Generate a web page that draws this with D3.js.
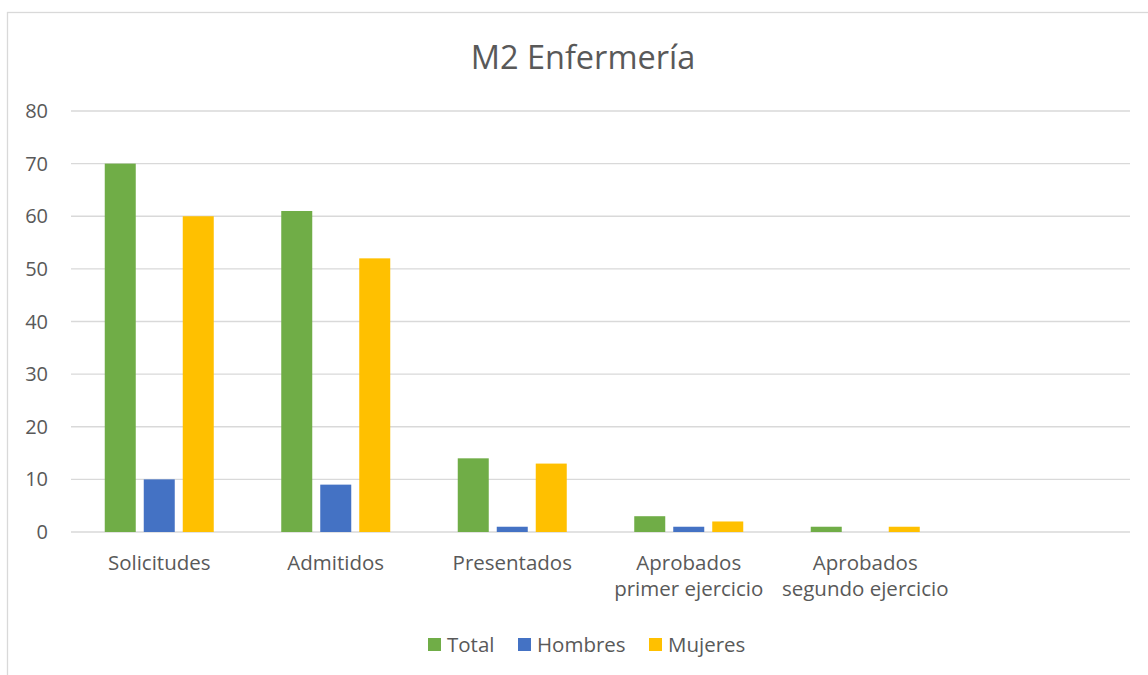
<!DOCTYPE html>
<html>
<head>
<meta charset="utf-8">
<title>M2 Enfermería</title>
<script src="https://cdn.jsdelivr.net/npm/d3@7"></script>
<style>
    body{ margin:0; background:#fff; }
    .chart text{ font-family: "Open Sans", "Noto Sans", sans-serif; fill:#595959; }
    .grid line{ stroke:#d9d9d9; stroke-width:1.3px; }
</style>
</head>
<body>
<div id="chart"></div>
<script>
// datos
var categorias = ["Solicitudes", "Admitidos", "Presentados", "Aprobados\nprimer ejercicio", "Aprobados\nsegundo ejercicio", ""];
var series = ["Total", "Hombres", "Mujeres"];
var total   = [70, 61, 14, 3, 1, null];
var hombres = [10, 9, 1, 1, 0, null];
var mujeres = [60, 52, 13, 2, 1, null];
var colores = ["#70ad47", "#4472c4", "#ffc000"];
var yTicks = [0, 10, 20, 30, 40, 50, 60, 70, 80];

var valores = [total, hombres, mujeres];

var width = 1148, height = 675;
var plotLeft = 71, plotRight = 1130, plotTop = 111, plotBottom = 532;

var svg = d3.select("#chart").append("svg")
    .attr("class", "chart")
    .attr("width", width)
    .attr("height", height);

// marco
svg.append("rect")
    .attr("x", 7.5).attr("y", 12.5)
    .attr("width", 1300).attr("height", 800)
    .attr("fill", "none").attr("stroke", "#d9d9d9").attr("stroke-width", 1.3);

var x0 = d3.scaleBand().domain(d3.range(categorias.length)).range([plotLeft, plotRight]);
var barW = 31, gap = 8;
var groupW = barW * 3 + gap * 2;
var x1 = d3.scaleBand().domain(d3.range(series.length))
    .range([0, groupW]).paddingInner(gap / (barW + gap)).paddingOuter(0);
var y = d3.scaleLinear().domain([0, 80]).range([plotBottom, plotTop]);

// rejilla
svg.append("g").attr("class", "grid")
    .selectAll("line").data(yTicks).enter().append("line")
    .attr("x1", plotLeft).attr("x2", plotRight)
    .attr("y1", function(d){ return y(d); })
    .attr("y2", function(d){ return y(d); });

// etiquetas eje y
svg.append("g").selectAll("text").data(yTicks).enter().append("text")
    .attr("x", 48)
    .attr("y", function(d){ return y(d); })
    .attr("dy", "0.35em")
    .attr("text-anchor", "end")
    .attr("font-size", "20px")
    .text(function(d){ return d; });

// barras
series.forEach(function(s, si){
    svg.append("g").selectAll("rect")
        .data(valores[si].map(function(v, i){ return {v: v, i: i}; }).filter(function(d){ return d.v !== null && d.v > 0; }))
        .enter().append("rect")
        .attr("fill", colores[si])
        .attr("x", function(d){ return x0(d.i) + (x0.bandwidth() - groupW) / 2 + x1(si); })
        .attr("width", x1.bandwidth())
        .attr("y", function(d){ return y(d.v); })
        .attr("height", function(d){ return y(0) - y(d.v); });
});

// etiquetas categorias
var cat = svg.append("g").selectAll("text").data(categorias).enter().append("text")
    .attr("text-anchor", "middle")
    .attr("font-size", "20.5px")
    .attr("transform", function(d, i){ return "translate(" + (x0(i) + x0.bandwidth() / 2) + ",570)"; });
cat.selectAll("tspan").data(function(d){ return d.split("\n"); }).enter().append("tspan")
    .attr("x", 0)
    .attr("dy", function(d, i){ return i === 0 ? 0 : 26; })
    .text(function(d){ return d; });

// titulo
svg.append("text")
    .attr("x", 583).attr("y", 69)
    .attr("text-anchor", "middle")
    .attr("font-size", "32.5px")
    .text("M2 Enfermería");

// leyenda
var legX = [428, 518, 649];
var leg = svg.append("g").selectAll("g").data(series).enter().append("g")
    .attr("transform", function(d, i){ return "translate(" + legX[i] + ",638)"; });
leg.append("rect").attr("width", 13).attr("height", 13)
    .attr("fill", function(d, i){ return colores[i]; });
leg.append("text").attr("x", 19).attr("y", 7).attr("dy", "0.35em")
    .attr("font-size", "20.5px")
    .text(function(d){ return d; });
</script>
</body>
</html>
